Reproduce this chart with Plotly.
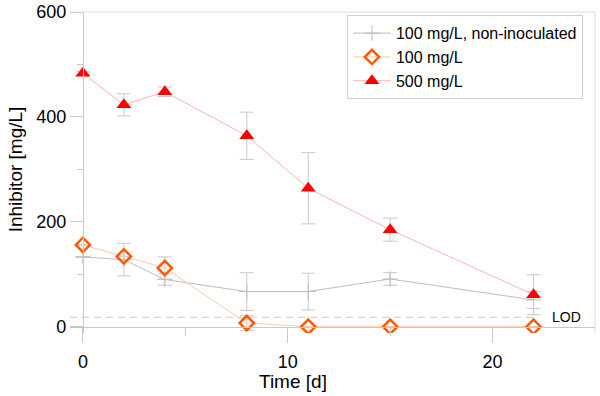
import plotly.graph_objects as go

# sampling days
days = [0, 2, 4, 8, 11, 15, 22]

# 100 mg/L, non-inoculated
ctrl_vals = [133, 128, 90, 67, 67, 91, 51]
ctrl_err = [0, 31, 11, 36, 35, 12, 16]

# 100 mg/L
low_vals = [156, 134, 112, 7, 0, 0, 0]
low_err = [0, 0, 21, 14, 0, 0, 0]

# 500 mg/L
high_vals = [483, 423, 448, 364, 264, 185, 61]
high_err = [4, 21, 9, 45, 68, 22, 38]

lod = 18
lod_end = 22

x_range = [-0.63, 25]
y_range = [-12, 600]

FONT = "Liberation Sans, Arial, sans-serif"
AXIS_GRAY = "#c8c8c8"

fig = go.Figure()


def errs(e):
    return dict(type="data", array=e, visible=True, color=AXIS_GRAY,
                thickness=1, width=7)


# limit of detection
fig.add_trace(go.Scatter(x=[x_range[0], lod_end], y=[lod, lod], mode="lines",
                         line=dict(color=AXIS_GRAY, width=1, dash="7px,5px"),
                         showlegend=False, hoverinfo="skip"))

fig.add_trace(go.Scatter(x=days, y=ctrl_vals, error_y=errs(ctrl_err),
                         mode="lines+markers", name="100 mg/L, non-inoculated",
                         line=dict(color="#bdbdbd", width=1),
                         marker=dict(symbol="cross-thin-open", size=11,
                                     line=dict(color="#a8a8a8", width=1))))

fig.add_trace(go.Scatter(x=days, y=low_vals, error_y=errs(low_err),
                         mode="lines+markers", name="100 mg/L",
                         line=dict(color="#ffc9aa", width=1),
                         marker=dict(symbol="diamond-open", size=11,
                                     color="#ff5a00",
                                     line=dict(color="#ff5a00", width=2.5))))

fig.add_trace(go.Scatter(x=days, y=high_vals, error_y=errs(high_err),
                         mode="lines+markers", name="500 mg/L",
                         line=dict(color="#ffb4b4", width=1),
                         marker=dict(symbol="triangle-up", size=13,
                                     color="#ff0000")))

# axes cross at zero, like the original
x_pos = (0 - y_range[0]) / (y_range[1] - y_range[0])
y_pos = (0 - x_range[0]) / (x_range[1] - x_range[0])

fig.update_xaxes(range=x_range, anchor="free", position=x_pos,
                 automargin=False, ticklabelstandoff=4,
                 showline=True, linecolor=AXIS_GRAY, linewidth=1,
                 showgrid=False, zeroline=False,
                 tickvals=[0, 10, 20], ticks="outside", ticklen=15,
                 tickcolor=AXIS_GRAY, tickfont=dict(size=18, color="black"),
                 minor=dict(tickvals=[5, 15], ticks="outside", ticklen=8,
                            tickcolor=AXIS_GRAY, showgrid=False))
fig.update_yaxes(range=y_range, anchor="free", position=y_pos,
                 automargin=False, ticklabeloverflow="allow",
                 showline=True, linecolor=AXIS_GRAY, linewidth=1,
                 showgrid=False, zeroline=False,
                 tickvals=[0, 200, 400, 600], ticks="outside", ticklen=13,
                 tickcolor=AXIS_GRAY, tickfont=dict(size=18, color="black"),
                 minor=dict(tickvals=[100, 300, 500], ticks="outside",
                            ticklen=6, tickcolor=AXIS_GRAY, showgrid=False))

# top and right frame
fig.add_shape(type="line", xref="paper", yref="paper", x0=0, x1=1, y0=1, y1=1,
              line=dict(color="#dddddd", width=1))
fig.add_shape(type="line", xref="paper", yref="paper", x0=1, x1=1, y0=0, y1=1,
              line=dict(color="#dddddd", width=1))

fig.add_annotation(text="LOD", x=23.6, y=lod, xref="x", yref="y",
                   showarrow=False, font=dict(size=14, color="black"))
fig.add_annotation(text="Time [d]", xref="paper", yref="paper",
                   x=(293 - 70) / 525, y=0, yshift=-48, showarrow=False,
                   xanchor="center", yanchor="middle",
                   font=dict(size=19, color="black"))
fig.add_annotation(text="Inhibitor [mg/L]", xref="paper", yref="paper",
                   x=0, xshift=-55, y=(333.4 - 169.5) / 321.4,
                   showarrow=False, textangle=-90,
                   xanchor="center", yanchor="middle",
                   font=dict(size=19, color="black"))

fig.update_layout(
    width=600, height=396,
    margin=dict(l=70, r=5, t=12, b=62.6, autoexpand=False),
    paper_bgcolor="white", plot_bgcolor="white",
    font=dict(family=FONT, color="black"),
    legend=dict(x=0.977, y=0.99, xanchor="right", yanchor="top",
                bordercolor="#d0d0d0", borderwidth=1, bgcolor="white",
                font=dict(size=16), tracegroupgap=0, itemwidth=38),
)

# drop the default 8px page margin so the figure sits at the window corner
fig.write_html("out.html", config={"displayModeBar": False},
               post_script="document.body.style.margin = '0';")
